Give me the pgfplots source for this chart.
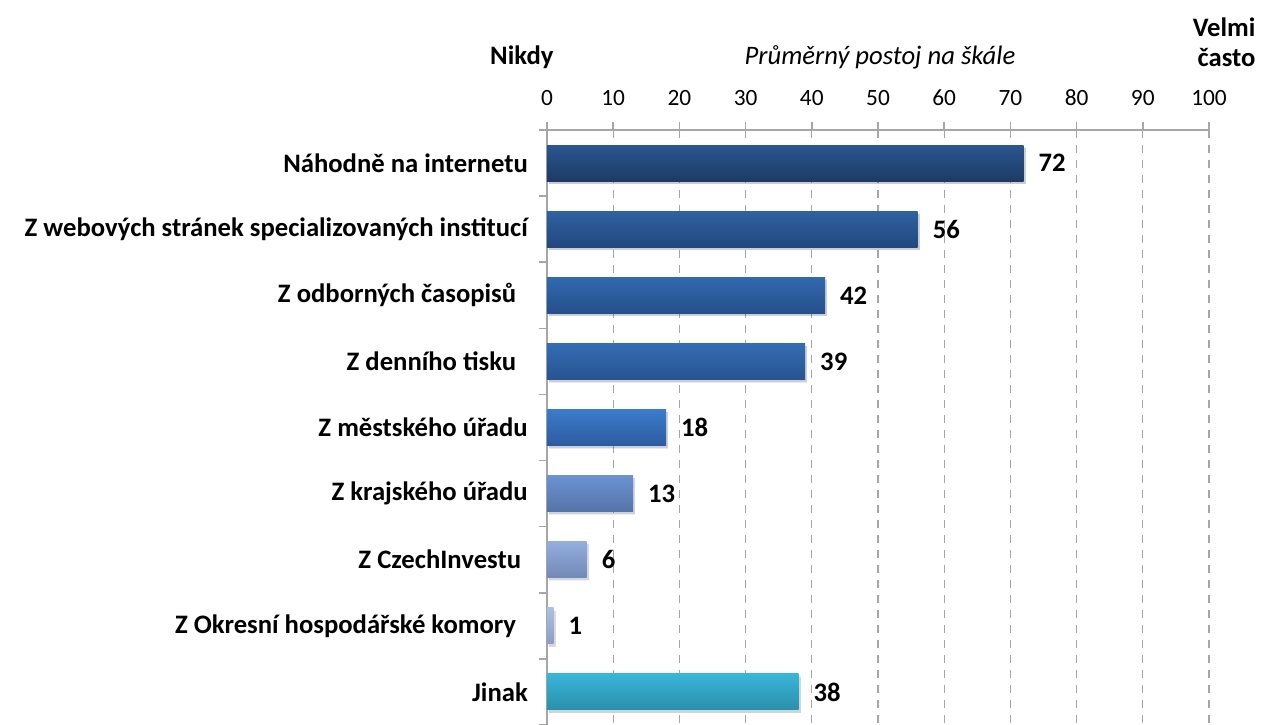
\documentclass[border=0pt]{standalone}
\usepackage{fontspec}
\setmainfont{Carlito}
\usepackage{pgfplots}
\pgfplotsset{compat=1.18}
\usetikzlibrary{shadows}

% bar colours (top / bottom of the gradient)
\definecolor{cAt}{HTML}{2A5690}\definecolor{cAb}{HTML}{1E3A64}
\definecolor{cBt}{HTML}{2E62A2}\definecolor{cBb}{HTML}{22487E}
\definecolor{cCt}{HTML}{3169B0}\definecolor{cCb}{HTML}{264F8A}
\definecolor{cDt}{HTML}{346DB5}\definecolor{cDb}{HTML}{28538F}
\definecolor{cEt}{HTML}{3B7BCC}\definecolor{cEb}{HTML}{2C5C9E}
\definecolor{cFt}{HTML}{6B93D2}\definecolor{cFb}{HTML}{5573A8}
\definecolor{cGt}{HTML}{92AEDD}\definecolor{cGb}{HTML}{7389B6}
\definecolor{cHt}{HTML}{ADC0E6}\definecolor{cHb}{HTML}{8A9CC2}
\definecolor{cIt}{HTML}{38B6D8}\definecolor{cIb}{HTML}{2B8FAB}
\definecolor{axgray}{HTML}{A6A6A6}

\tikzset{barshadow/.style={drop shadow={fill=black, opacity=0.12, shadow xshift=1.2pt, shadow yshift=-1.6pt}}}

\begin{document}
\fontsize{16pt}{18pt}\selectfont
\begin{tikzpicture}
\begin{axis}[
  name=ax,
  scale only axis,
  width=397.2pt, height=357pt,
  xbar, bar width=21.6pt, bar shift=0pt,
  xmin=0, xmax=100, ymin=-0.5, ymax=8.5,
  y dir=reverse,
  clip=false,
  axis x line*=top, axis y line*=left,
  axis line style={axgray, line width=0.9pt},
  tick align=outside,
  major tick length=5pt,
  tick style={axgray, line width=0.9pt},
  xtick={0,10,...,100},
  xticklabel style={yshift=4pt, font=\fontsize{14pt}{16pt}\selectfont},
  /pgf/number format/assume math mode=true,
  xmajorgrids,
  major grid style={axgray, dashed, line width=0.8pt, dash pattern=on 5pt off 4pt},
  ytick={-0.5,0.5,...,8.5},
  yticklabels={},
  extra y ticks={0,1,...,8},
  extra y tick labels={Náhodně na internetu,
    Z webových stránek specializovaných institucí,
    Z odborných časopisů\hspace*{7pt},
    Z denního tisku\hspace*{7pt},
    Z městského úřadu,
    Z krajského úřadu,
    Z CzechInvestu\hspace*{4pt},
    Z Okresní hospodářské komory\hspace*{7pt},
    Jinak},
  extra y tick style={major tick length=0pt, yticklabel style={font=\bfseries, xshift=-6pt}},
  nodes near coords={\pgfmathprintnumber{\pgfplotspointmeta}},
  point meta=x,
  nodes near coords style={anchor=west, font=\bfseries, xshift=3.5pt},
]
\addplot[draw=none, barshadow, top color=cAt, bottom color=cAb] coordinates {(72,0)};
\addplot[draw=none, barshadow, top color=cBt, bottom color=cBb] coordinates {(56,1)};
\addplot[draw=none, barshadow, top color=cCt, bottom color=cCb] coordinates {(42,2)};
\addplot[draw=none, barshadow, top color=cDt, bottom color=cDb] coordinates {(39,3)};
\addplot[draw=none, barshadow, top color=cEt, bottom color=cEb] coordinates {(18,4)};
\addplot[draw=none, barshadow, top color=cFt, bottom color=cFb] coordinates {(13,5)};
\addplot[draw=none, barshadow, top color=cGt, bottom color=cGb] coordinates {(6,6)};
\addplot[draw=none, barshadow, top color=cHt, bottom color=cHb] coordinates {(1,7)};
\addplot[draw=none, barshadow, top color=cIt, bottom color=cIb] coordinates {(38,8)};

\node[font=\bfseries] at (axis cs:-3.8,-1.6) {Nikdy};
\node[font=\itshape] at (axis cs:50.3,-1.6) {Průměrný postoj na škále};
\node[font=\bfseries, align=right, anchor=east] at (axis cs:108.4,-1.83) {Velmi\\často};
\end{axis}
\pgfresetboundingbox
\path (ax.south west) ++(-328.2pt,0pt) rectangle ++(756.6pt,435pt);
\end{tikzpicture}
\end{document}
